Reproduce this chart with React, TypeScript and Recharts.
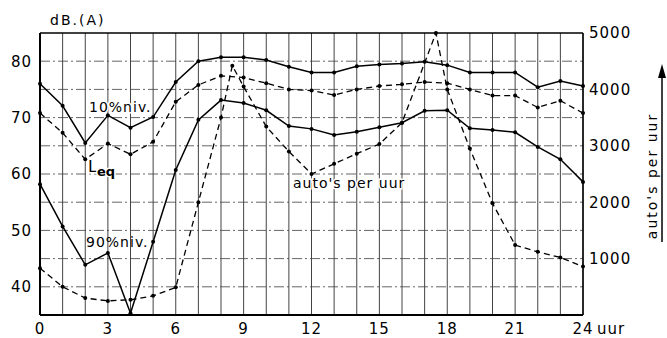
import React from 'react';
import { LineChart, Line, XAxis, YAxis, CartesianGrid, ReferenceLine } from 'recharts';

// hours of the day
const hours = [0, 1, 2, 3, 4, 5, 6, 7, 8, 9, 10, 11, 12, 13, 14, 15, 16, 17, 18, 19, 20, 21, 22, 23, 24];
// dB(A) levels
const tenPct = [76.0, 72.1, 65.5, 70.4, 68.2, 70.1, 76.3, 80.0, 80.7, 80.7, 80.2, 79.0, 78.0, 78.0, 79.1, 79.4, 79.6, 79.9, 79.3, 78.0, 78.0, 78.0, 75.4, 76.5, 75.6];
const leq = [70.8, 67.3, 62.6, 65.4, 63.5, 65.7, 72.8, 75.8, 77.4, 77.1, 76.1, 75.0, 74.8, 74.0, 75.0, 75.6, 75.9, 76.3, 76.1, 75.0, 73.9, 73.9, 71.8, 73.0, 70.8];
const ninetyPct = [58.2, 50.7, 43.9, 46.0, 35.3, 48.0, 60.7, 69.6, 73.1, 72.6, 71.3, 68.5, 68.0, 66.9, 67.5, 68.3, 69.1, 71.2, 71.3, 68.1, 67.8, 67.4, 64.8, 62.6, 58.6];
// cars per hour (right axis)
const autoHours = [0, 1, 2, 3, 4, 5, 6, 7, 8, 8.5, 9, 10, 11, 12, 13, 14, 15, 16, 17.5, 18, 19, 20, 21, 22, 23, 24];
const autos = [830, 500, 300, 250, 270, 340, 490, 2000, 3500, 4420, 4050, 3340, 2900, 2500, 2680, 2860, 3030, 3410, 5000, 4000, 2950, 1980, 1240, 1120, 1020, 860];

// ticks
const xTicks = [0, 3, 6, 9, 12, 15, 18, 21, 24];
const leftTicks = [40, 50, 60, 70, 80];
const rightTicks = [1000, 2000, 3000, 4000, 5000];
const hGrid = [40, 45, 50, 55, 60, 65, 70, 75, 80];

const levelRows = hours.map((h, i) => ({ h, ten: tenPct[i], leq: leq[i], ninety: ninetyPct[i] }));
const autoRows = autoHours.map((h, i) => ({ h, autos: autos[i] }));

const FONT = '"DejaVu Sans", Verdana, sans-serif';
const tickStyle = { fontSize: 15, fill: '#000', fontFamily: FONT, letterSpacing: 1 };

const dot = { r: 2, fill: '#000', stroke: '#000', strokeWidth: 0 };

export default function App() {
  return (
    <div style={{ position: 'absolute', left: 0, top: 0, width: 667, height: 338, background: '#fff', fontFamily: FONT }}>
      <LineChart width={667} height={338} margin={{ top: 33, right: 0, bottom: 0, left: 0 }}>
        <CartesianGrid yAxisId="left" vertical={false} horizontalValues={hGrid} stroke="#666" strokeDasharray="10 3 2 3" />
        <CartesianGrid yAxisId="left" horizontal={false} verticalValues={hours} stroke="#444" />
        <XAxis
          type="number"
          dataKey="h"
          domain={[0, 24]}
          ticks={xTicks}
          height={23}
          tickLine={false}
          axisLine={{ stroke: '#000', strokeWidth: 2 }}
          tick={tickStyle}
          allowDuplicatedCategory={false}
        />
        <YAxis
          yAxisId="left"
          orientation="left"
          domain={[35, 85]}
          ticks={leftTicks}
          width={40}
          tickLine={false}
          axisLine={{ stroke: '#000', strokeWidth: 2 }}
          tick={tickStyle}
        />
        <YAxis
          yAxisId="right"
          orientation="right"
          domain={[0, 5000]}
          ticks={rightTicks}
          width={84}
          tickLine={false}
          tickMargin={0}
          axisLine={{ stroke: '#000', strokeWidth: 1.5 }}
          tick={tickStyle}
        />
        <ReferenceLine yAxisId="left" y={85} stroke="#000" strokeWidth={1.5} />
        <Line yAxisId="left" data={levelRows} dataKey="ten" type="linear" stroke="#000" strokeWidth={1.5} dot={dot} isAnimationActive={false} />
        <Line yAxisId="left" data={levelRows} dataKey="leq" type="linear" stroke="#000" strokeWidth={1.3} strokeDasharray="6 4" dot={dot} isAnimationActive={false} />
        <Line yAxisId="left" data={levelRows} dataKey="ninety" type="linear" stroke="#000" strokeWidth={1.5} dot={dot} isAnimationActive={false} />
        <Line yAxisId="right" data={autoRows} dataKey="autos" type="linear" stroke="#000" strokeWidth={1.3} strokeDasharray="6 4" dot={dot} isAnimationActive={false} />
      </LineChart>
      <svg width={667} height={338} style={{ position: 'absolute', left: 0, top: 0, pointerEvents: 'none' }}>
        <g fontFamily={FONT} fill="#000">
          <text x={50} y={25} fontSize={14} letterSpacing={2}>dB.(A)</text>
          <text x={89} y={112} fontSize={14} letterSpacing={1} stroke="#fff" strokeWidth={3} paintOrder="stroke">10%niv.</text>
          <text x={88} y={172} fontSize={16} stroke="#fff" strokeWidth={3} paintOrder="stroke">L</text>
          <text x={97} y={176} fontSize={13} fontWeight="bold" stroke="#fff" strokeWidth={3} paintOrder="stroke">eq</text>
          <text x={86} y={247} fontSize={14} letterSpacing={1}>90%niv.</text>
          <text x={293} y={188} fontSize={14} letterSpacing={1} stroke="#fff" strokeWidth={3} paintOrder="stroke">auto's per uur</text>
          <text x={597} y={334} fontSize={15} letterSpacing={1}>uur</text>
          <text x={657} y={176} fontSize={14} letterSpacing={2} textAnchor="middle" transform="rotate(-90 657 176)">auto's per uur</text>
          <line x1={662} y1={74} x2={662} y2={242} stroke="#000" strokeWidth={1.5} />
          <polygon points="662,64 658,78 666,78" fill="#000" />
        </g>
      </svg>
    </div>
  );
}
